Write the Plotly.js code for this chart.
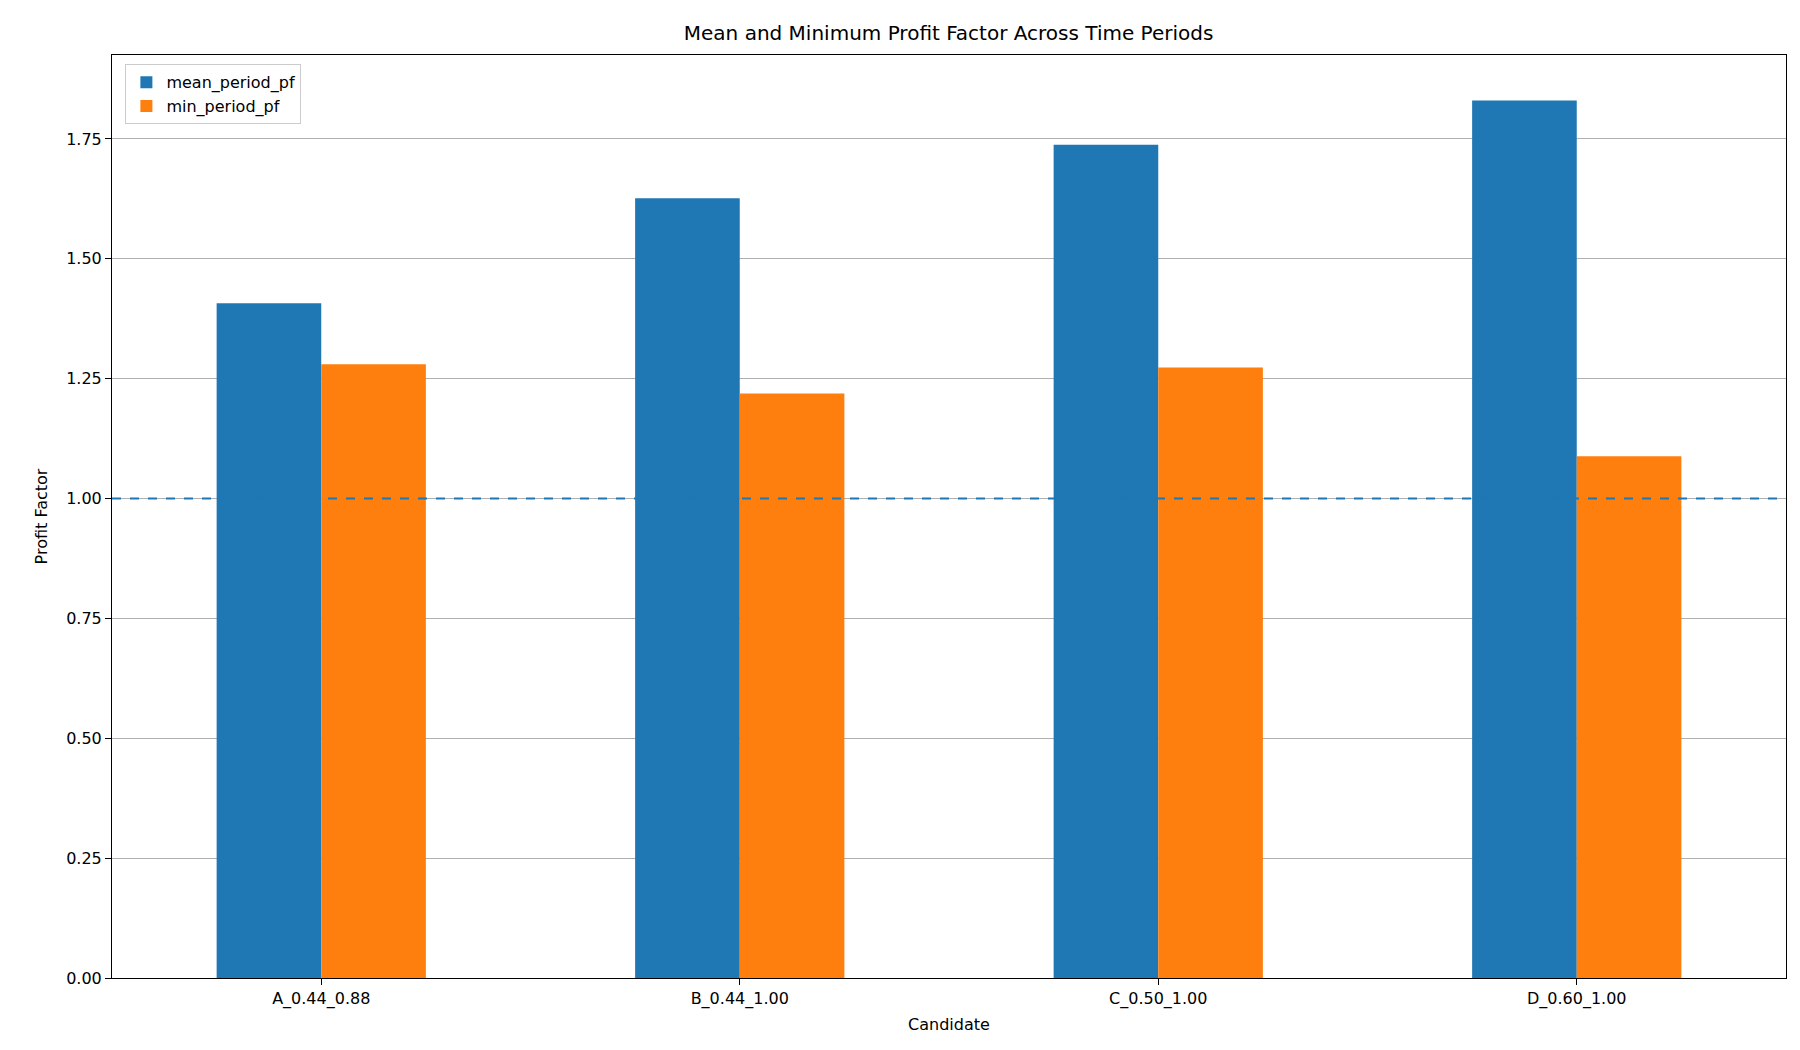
<!DOCTYPE html>
<html>
<head>
<meta charset="utf-8">
<script src="https://cdn.plot.ly/plotly-3.0.1.min.js"></script>
<style>body{margin:0}</style>
</head>
<body>
<div id="myDiv" style="width:1800px;height:1050px"></div>
<script>
var candidates = ['A_0.44_0.88', 'B_0.44_1.00', 'C_0.50_1.00', 'D_0.60_1.00'];
var meanPf = [1.407, 1.626, 1.738, 1.830];
var minPf = [1.280, 1.219, 1.273, 1.088];
var breakEven = 1.0;

var data = [
  {type: 'bar', name: 'mean_period_pf', x: candidates, y: meanPf, marker: {color: '#1f77b4'}},
  {type: 'bar', name: 'min_period_pf', x: candidates, y: minPf, marker: {color: '#ff7f0e'}}
];

var layout = {
  width: 1800, height: 1050,
  font: {family: 'DejaVu Sans', size: 16, color: '#000'},
  title: {text: 'Mean and Minimum Profit Factor Across Time Periods', font: {size: 20}, x: 0.527, y: 0.975},
  margin: {l: 112, r: 14, t: 55, b: 72},
  barmode: 'group', bargap: 0.5, bargroupgap: 0,
  plot_bgcolor: '#fff', paper_bgcolor: '#fff',
  showlegend: true,
  legend: {x: 0.008, y: 0.99, xanchor: 'left', yanchor: 'top', bordercolor: '#ccc', borderwidth: 1, font: {size: 16}},
  xaxis: {
    title: {text: 'Candidate', font: {size: 16}, standoff: 10},
    range: [-0.5, 3.5], showline: true, linecolor: '#000', mirror: true,
    ticks: 'outside', ticklen: 6, tickcolor: '#000', showgrid: false
  },
  yaxis: {
    title: {text: 'Profit Factor', font: {size: 16}, standoff: 14},
    range: [0, 1.925], tickvals: [0, 0.25, 0.5, 0.75, 1, 1.25, 1.5, 1.75], tickformat: '.2f',
    showline: true, linecolor: '#000', mirror: true, ticks: 'outside', ticklen: 6, tickcolor: '#000',
    showgrid: true, gridcolor: '#b0b0b0', zeroline: false
  },
  shapes: [{
    type: 'line', xref: 'paper', yref: 'y', x0: 0, x1: 1, y0: breakEven, y1: breakEven,
    line: {color: '#1f77b4', width: 2, dash: 'dash'}
  }]
};

Plotly.newPlot('myDiv', data, layout, {displayModeBar: false});
</script>
</body>
</html>
